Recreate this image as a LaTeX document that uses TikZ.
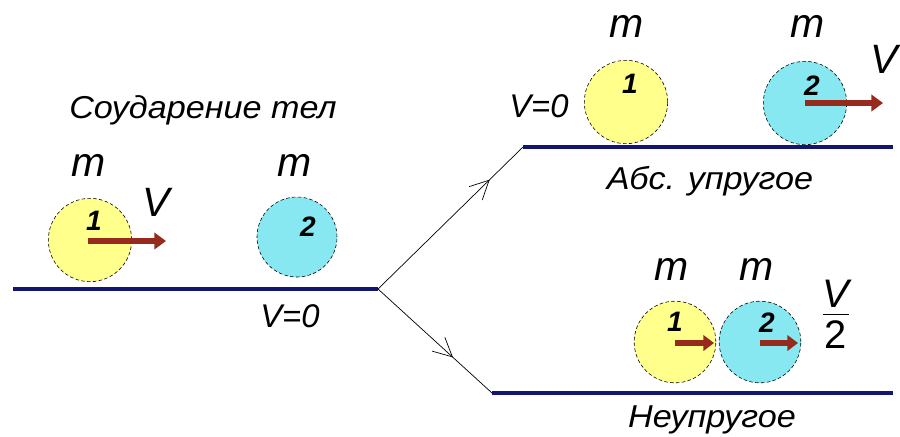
\documentclass[tikz,border=0pt]{standalone}
\usepackage{fontspec}
\setmainfont{Liberation Sans}
\newfontfamily\widefont[FakeStretch=1.08]{Liberation Sans}
\usetikzlibrary{arrows.meta, positioning, decorations.markings}
\definecolor{groundblue}{RGB}{18,22,112}
\definecolor{ballyellow}{RGB}{255,255,140}
\definecolor{ballcyan}{RGB}{135,232,242}
\definecolor{velred}{RGB}{150,42,28}

\begin{document}
\begin{tikzpicture}[
  x=0.03cm, y=-0.03cm,
  ball/.style={circle, draw, densely dashed, line width=0.5pt, minimum size=2.5cm, inner sep=0pt},
  smallball/.style={ball, minimum size=2.45cm},
  ground/.style={line width=3.4pt, color=groundblue},
  vel/.style={line width=4.6pt, color=velred, -{Triangle[length=10pt, width=14pt]}},
  mass/.style={font=\fontsize{35}{35}\selectfont\itshape},
  num/.style={font=\fontsize{24}{24}\selectfont\bfseries\itshape},
  speed/.style={font=\fontsize{28}{28}\selectfont\itshape},
  bigv/.style={font=\fontsize{35}{35}\selectfont\itshape},
  caption/.style={font=\fontsize{27}{27}\widefont\itshape},
  branch/.style={line width=0.6pt, postaction={decorate},
    decoration={markings, mark=at position #1 with {\arrow{Straight Barb[length=16pt, width=16pt]}}}}
]
\useasboundingbox (0,0) rectangle (900,436);

% Ground lines
\coordinate (leftEnd) at (13,289);
\coordinate (split) at (378,289);
\coordinate (upStart) at (523,147);
\coordinate (upEnd) at (893,147);
\coordinate (downStart) at (492,393);
\coordinate (downEnd) at (893,393);
\draw[ground] (leftEnd) -- (split);
\draw[ground] (upStart) -- (upEnd);
\draw[ground] (downStart) -- (downEnd);
\draw[branch=0.77] (split) -- (upStart);
\draw[branch=0.66] (split) -- (downStart);

% Before the collision
\node[caption] (title) at (203,110) {Соударение тел};
\node[ball, fill=ballyellow] (ballL1) at (90,240) {};
\node[ball, fill=ballcyan, minimum size=2.4cm] (ballL2) at (297,237) {};
\node[num] (numL1) at (94,221) {1};
\node[num] (numL2) at (308,227) {2};
\node[mass] (massL1) at (89,165) {m};
\node[mass] (massL2) at (295,165) {m};
\node[bigv] (velL) at (156,202) {V};
\coordinate (tipL) at (166,241);
\draw[vel] (ballL1.center) ++(-2,1) -- (tipL);
\node[speed] (restL) at (290,316) {V=0};

% Elastic
\node[ball, fill=ballyellow] (ballU1) at (626,102) {};
\node[ball, fill=ballcyan] (ballU2) at (805,103) {};
\node[num] (numU1) at (630,84) {1};
\node[num] (numU2) at (812,86) {2};
\node[mass] (massU1) at (627,26) {m};
\node[mass] (massU2) at (808,26) {m};
\node[speed] (restU) at (539,106) {V=0};
\node[bigv] (velU) at (884,59) {V};
\coordinate (tipU) at (883,103);
\draw[vel] (ballU2.center) -- (tipU);
\node[caption] (capU) at (710,181) {Абс. упругое};

% Inelastic
\node[smallball, fill=ballyellow] (ballD1) at (675,342) {};
\node[smallball, fill=ballcyan] (ballD2) at (760,342) {};
\node[num] (numD1) at (675,322) {1};
\node[num] (numD2) at (767,323) {2};
\node[mass] (massD1) at (672,269) {m};
\node[mass] (massD2) at (757,269) {m};
\coordinate (tipD1) at (714,343);
\coordinate (tipD2) at (798,343);
\draw[vel, -{Triangle[length=9pt, width=13pt]}] (ballD1.center) ++(0,1) -- (tipD1);
\draw[vel, -{Triangle[length=9pt, width=13pt]}] (ballD2.center) ++(0,1) -- (tipD2);
\node[font=\fontsize{34}{34}\selectfont] (halfV) at (836,320)
  {\begin{tabular}{@{}c@{}}\itshape V\\[-4pt]\hline\rule{0pt}{29pt}2\end{tabular}};
\node[caption] (capD) at (712,420) {Неупругое};
\end{tikzpicture}
\end{document}
